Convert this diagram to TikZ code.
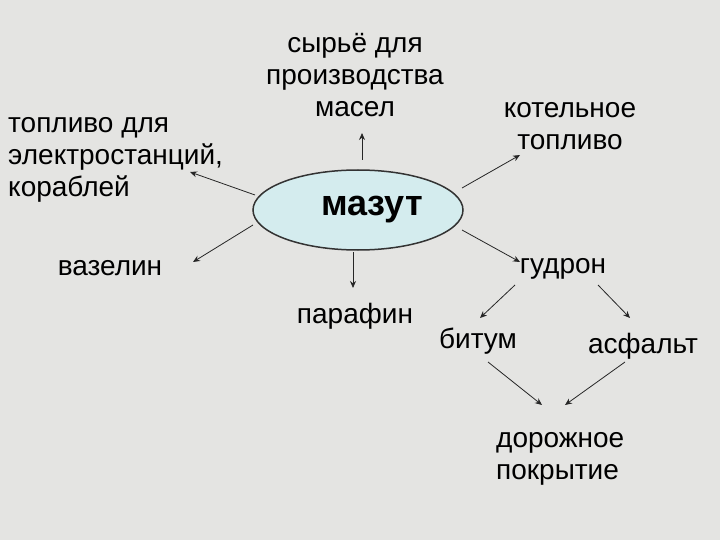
\documentclass[tikz,border=0pt]{standalone}
\usepackage{fontspec}
\setmainfont{Liberation Sans}
\usetikzlibrary{shapes.geometric,arrows.meta}
\definecolor{bg}{HTML}{E4E4E2}
\definecolor{oval}{HTML}{D4ECEE}
\begin{document}
\begin{tikzpicture}[x=1pt,y=-1pt,
  lbl/.style={font=\fontsize{28}{32}\selectfont,align=center,inner sep=0pt},
  arr/.style={-{Stealth[length=7pt,width=6pt]},line width=0.8pt,black!85}]
\fill[bg] (0,0) rectangle (720,540);
\useasboundingbox (0,0) rectangle (720,540);
\node[ellipse,draw=black!80,line width=1.5pt,fill=oval,minimum width=210pt,minimum height=80pt] (m) at (358,210) {};
\node[font=\fontsize{36}{40}\selectfont\bfseries,inner sep=0pt] (mt) at (372,210) {мазут};
\node[lbl] (s) at (355,75) {сырьё для\\производства\\масел};
\node[lbl] (k) at (570,126) {котельное\\топливо};
\node[lbl,align=left,anchor=west] (t) at (8,160) {топливо для\\электростанций,\\кораблей};
\node[lbl] (v) at (110,268) {вазелин};
\node[lbl] (g) at (563,269) {гудрон};
\node[lbl] (p) at (355,316) {парафин};
\node[lbl] (b) at (478,341) {битум};
\node[lbl] (a) at (643,346) {асфальт};
\node[lbl,align=left,anchor=west] (d) at (496,459) {дорожное\\покрытие};
\coordinate (m1) at (362,160); \coordinate (s1) at (362,133);
\draw[arr] (m1) -- (s1);
\coordinate (m2) at (462,188); \coordinate (k1) at (520,155);
\draw[arr] (m2) -- (k1);
\coordinate (m3) at (255,195); \coordinate (t1) at (190,172);
\draw[arr] (m3) -- (t1);
\coordinate (m4) at (253,225); \coordinate (v1) at (193,262);
\draw[arr] (m4) -- (v1);
\coordinate (m5) at (353,252); \coordinate (p1) at (353,288);
\draw[arr] (m5) -- (p1);
\coordinate (m6) at (462,230); \coordinate (g1) at (520,262);
\draw[arr] (m6) -- (g1);
\coordinate (g2) at (515,285); \coordinate (b1) at (480,318);
\draw[arr] (g2) -- (b1);
\coordinate (g3) at (598,285); \coordinate (a1) at (630,318);
\draw[arr] (g3) -- (a1);
\coordinate (b2) at (488,362); \coordinate (d1) at (542,405);
\draw[arr] (b2) -- (d1);
\coordinate (a2) at (625,362); \coordinate (d2) at (565,405);
\draw[arr] (a2) -- (d2);
\end{tikzpicture}
\end{document}
